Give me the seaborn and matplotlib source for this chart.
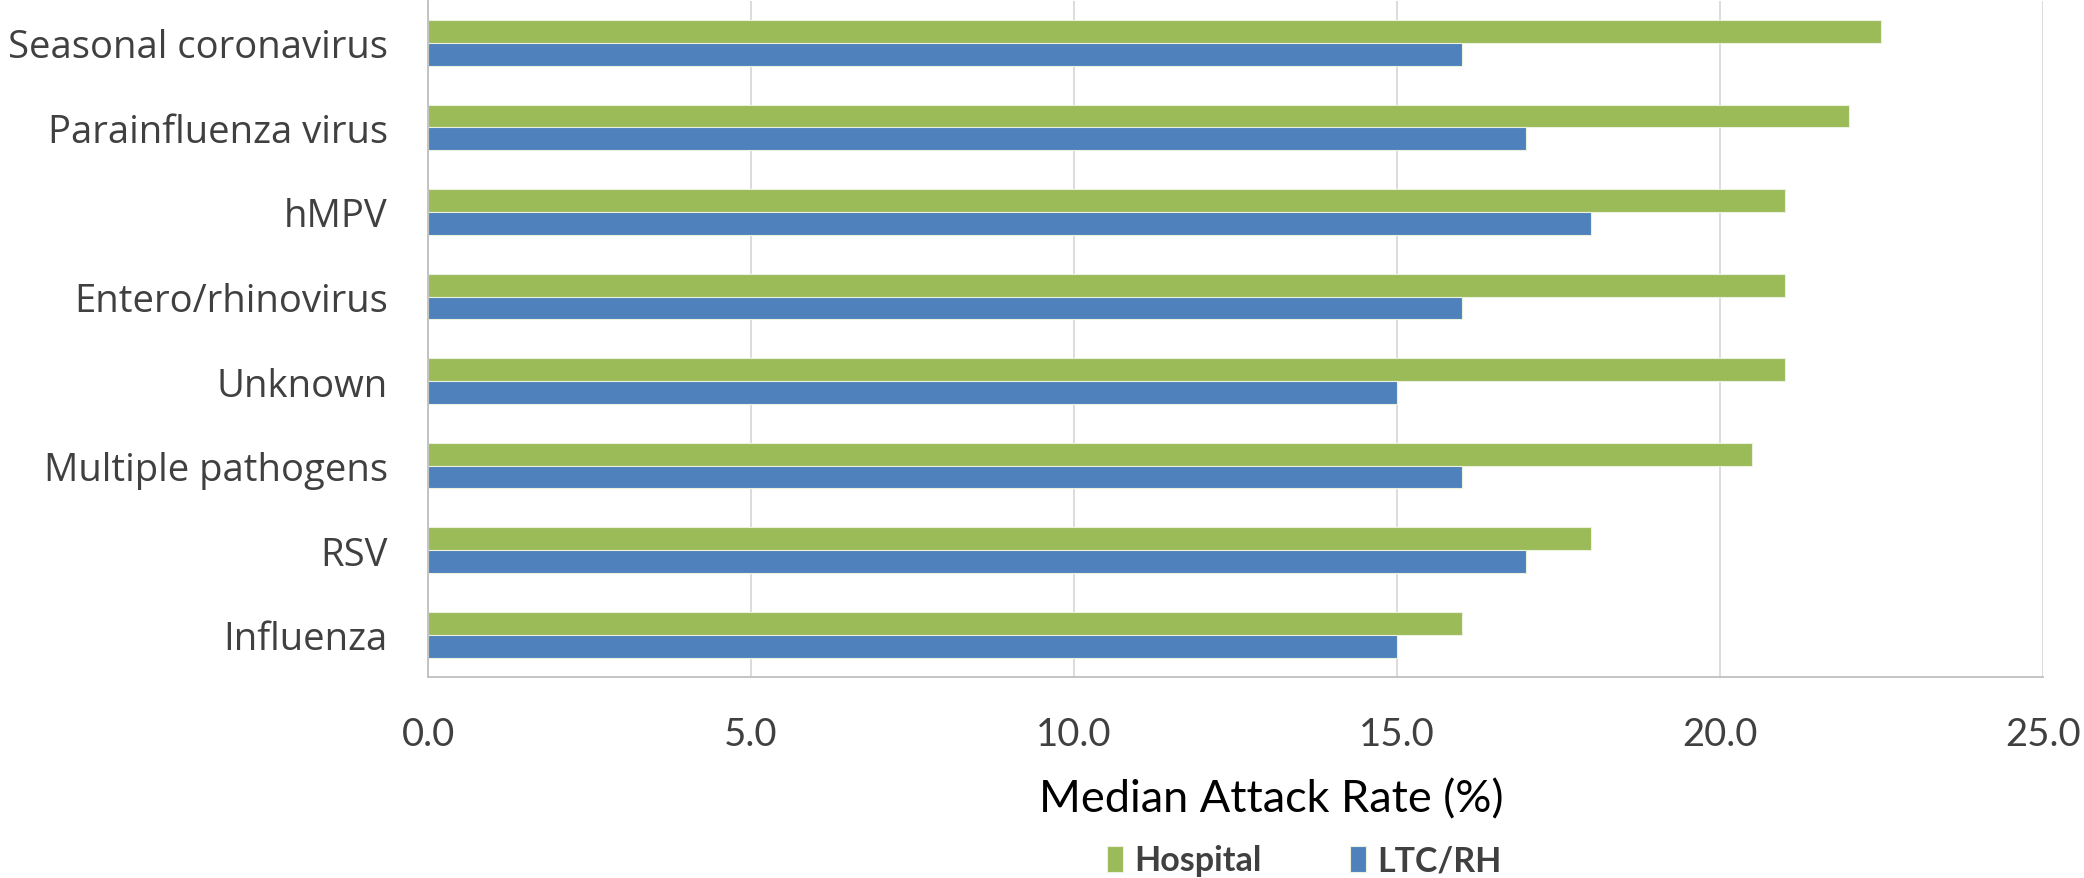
import matplotlib
matplotlib.use("Agg")
import matplotlib.pyplot as plt
import seaborn as sns
import pandas as pd

# Outbreak pathogens and median attack rates by setting
pathogens = ["Seasonal coronavirus", "Parainfluenza virus", "hMPV", "Entero/rhinovirus",
             "Unknown", "Multiple pathogens", "RSV", "Influenza"]
hospital = [22.5, 22.0, 21.0, 21.0, 21.0, 20.5, 18.0, 16.0]
ltc_rh = [16.0, 17.0, 18.0, 16.0, 15.0, 16.0, 17.0, 15.0]
settings = ["Hospital", "LTC/RH"]
x_ticks = [0, 5, 10, 15, 20, 25]

df = pd.DataFrame({
    "pathogen": pathogens * 2,
    "rate": hospital + ltc_rh,
    "setting": [settings[0]] * len(pathogens) + [settings[1]] * len(pathogens),
})

sns.set_theme(style="white")
plt.rcParams["font.family"] = ["Open Sans", "DejaVu Sans"]
narrow = ["Lato", "DejaVu Sans"]

fig = plt.figure(figsize=(20.84, 8.79), dpi=100)
ax = fig.add_axes([0.2054, 0.2287, 0.7749, 0.7695])

palette = {"Hospital": "#9BBB59", "LTC/RH": "#4F81BD"}
sns.barplot(data=df, x="rate", y="pathogen", hue="setting", hue_order=settings,
            order=pathogens, palette=palette, orient="h", width=0.54,
            saturation=1, edgecolor="#EAF1DD", linewidth=0.8, ax=ax, legend=True)

ax.set_xlim(0, 25)
ax.set_xticks(x_ticks)
ax.set_xticklabels([f"{t:.1f}" for t in x_ticks], fontsize=27.5, color="#404040",
                   family=narrow)
ax.tick_params(axis="x", length=0, pad=28)
ax.tick_params(axis="y", length=0, pad=29, labelsize=27.5, labelcolor="#404040")
ax.set_ylabel("")
ax.set_xlabel("Median Attack Rate (%)", fontsize=32.5, color="#000000", family=narrow)
ax.xaxis.set_label_coords(0.522, -0.15)

ax.xaxis.grid(True, color="#D9D9D9", linewidth=1.3)
ax.yaxis.grid(False)
ax.set_axisbelow(True)
for side in ["top", "right"]:
    ax.spines[side].set_visible(False)
for side in ["left", "bottom"]:
    ax.spines[side].set_color("#BFBFBF")
    ax.spines[side].set_linewidth(1.3)

# Legend below the axis title
handles, labels = ax.get_legend_handles_labels()
ax.get_legend().remove()
leg = fig.legend(handles, labels, loc="center", bbox_to_anchor=(0.626, 0.02), ncol=2,
                 frameon=False, handlelength=0.45, handleheight=0.8, handletextpad=0.35,
                 columnspacing=2.6,
                 prop={"family": narrow, "weight": "bold", "size": 24.5})
for t in leg.get_texts():
    t.set_color("#404040")

fig.savefig("out.png", dpi=100)
